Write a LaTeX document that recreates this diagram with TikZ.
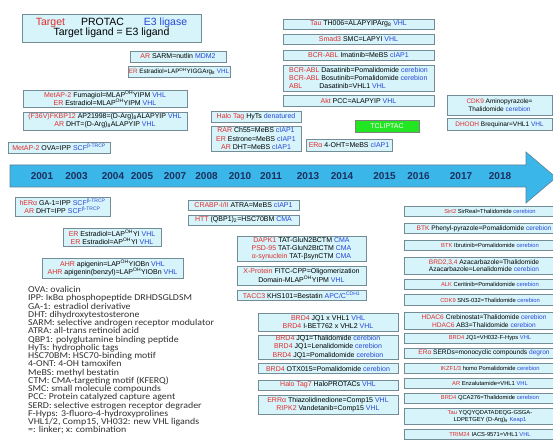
\documentclass[tikz,border=0pt]{standalone}
\usepackage{fontspec}
\setmainfont{Liberation Sans}
\newfontfamily\glossfont[FakeStretch=1.1]{Carlito}
\usetikzlibrary{backgrounds}
\definecolor{tred}{RGB}{225,45,45}
\definecolor{eblue}{RGB}{40,70,215}
\definecolor{boxfill}{RGB}{214,244,250}
\definecolor{boxline}{RGB}{115,140,150}
\definecolor{bandfill}{RGB}{58,182,232}
\definecolor{bandline}{RGB}{95,130,150}
\definecolor{yearcol}{RGB}{28,48,95}
\definecolor{vlinecol}{RGB}{165,165,165}
\definecolor{tgreen}{RGB}{35,230,35}
\definecolor{glosscol}{RGB}{50,50,50}
\newcommand{\tgt}[1]{\textcolor{tred}{#1}}
\newcommand{\ubq}[1]{\textcolor{eblue}{#1}}
\newcommand{\ohs}{\textsuperscript{OH}}
\lineskiplimit=-5pt
\tikzset{
 bx/.style={draw=boxline, fill=boxfill, line width=0.8pt, inner sep=0pt, align=center,
   font=\fontsize{7}{8.2}\selectfont},
 rbx/.style={bx, minimum width=172pt, minimum height=10pt, font=\fontsize{5.8}{6.6}\selectfont},
 big/.style={minimum width=160pt, xshift=-6pt, font=\fontsize{6.6}{7.6}\selectfont},
 yr/.style={font=\fontsize{10}{10}\selectfont\bfseries, text=yearcol, inner sep=0pt},
 vl/.style={draw=vlinecol, line width=0.9pt},
 gl/.style={font=\glossfont\fontsize{9}{9}\selectfont, text=glosscol, inner sep=0pt, anchor=base west},
}
\begin{document}
\begin{tikzpicture}[x=1pt,y=-1pt]
\useasboundingbox[fill=white] (0,0) rectangle (553,446);

% timeline arrow
\path[fill=bandfill, draw=bandline, line width=0.6pt] (10,165) -- (526,165) -- (526,152) -- (556,177.5) -- (526,203) -- (526,187) -- (10,187) -- cycle;
\coordinate (bandT) at (0,165);
\coordinate (bandB) at (0,187);

% years
\node[yr] (y2001) at (42,176.5) {2001};
\node[yr] (y2003) at (76.5,176.5) {2003};
\node[yr] (y2004) at (113,176.5) {2004};
\node[yr] (y2005) at (142,176.5) {2005};
\node[yr] (y2007) at (175,176.5) {2007};
\node[yr] (y2008) at (206.5,176.5) {2008};
\node[yr] (y2010) at (240,176.5) {2010};
\node[yr] (y2011) at (271,176.5) {2011};
\node[yr] (y2013) at (308,176.5) {2013};
\node[yr] (y2014) at (342,176.5) {2014};
\node[yr] (y2015) at (384.5,176.5) {2015};
\node[yr] (y2016) at (418.5,176.5) {2016};
\node[yr] (y2017) at (461,176.5) {2017};
\node[yr] (y2018) at (500,176.5) {2018};

% legend
\node[bx, minimum width=179pt, minimum height=28pt, font=\fontsize{10.5}{10}\selectfont] (leg) at (111.5,28)
 {\tgt{Target}\hspace{16pt}PROTAC\hspace{20pt}\ubq{E3 ligase}\\Target ligand = E3 ligand};

% above timeline
\node[bx, minimum width=102pt, minimum height=11pt] (A2) at (59,147.5) {\tgt{MetAP-2} OVA=IPP \ubq{SCF\textsuperscript{β-TRCP}}};
\node[bx, minimum width=164pt, minimum height=17pt] (A3) at (105,98.5) {\tgt{MetAP-2} Fumagiol=MLAP\ohs YIPM \ubq{VHL}\\\tgt{ER} Estradiol=MLAP\ohs YIPM \ubq{VHL}};
\node[bx, minimum width=164pt, minimum height=18pt] (A4) at (105,121) {\tgt{(F36V)FKBP12} AP21998=(D-Arg)\textsubscript{8}ALAPYIP \ubq{VHL}\\\tgt{AR} DHT=(D-Arg)\textsubscript{8}ALAPYIP \ubq{VHL}};
\node[bx, minimum width=96pt, minimum height=11pt] (A5) at (178,56.5) {\tgt{AR} SARM=nutlin \ubq{MDM2}};
\node[bx, minimum width=102pt, minimum height=11pt, font=\fontsize{6.3}{7}\selectfont] (A6) at (179,71.5) {\tgt{ER} Estradiol=LAP\ohs YIGGArg\textsubscript{8} \ubq{VHL}};
\node[bx, minimum width=90pt, minimum height=11pt] (A7) at (256,116.5) {\tgt{Halo Tag} HyTs \ubq{denatured}};
\node[bx, minimum width=90pt, minimum height=25pt] (A8) at (256,138.5) {\tgt{RAR} Ch55=MeBS \ubq{cIAP1}\\\tgt{ER} Estrone=MeBS \ubq{cIAP1}\\\tgt{AR} DHT=MeBS \ubq{cIAP1}};
\node[bx, minimum width=86pt, minimum height=12pt] (A9) at (349,145) {\tgt{ERα} 4-OHT=MeBS \ubq{cIAP1}};
\node[bx, minimum width=151pt, minimum height=10pt] (A10) at (358.5,24) {\tgt{Tau} TH006=ALAPYIPArg\textsubscript{8} \ubq{VHL}};
\node[bx, minimum width=151pt, minimum height=10pt] (A11) at (358.5,39) {\tgt{Smad3} SMC=LAPYI \ubq{VHL}};
\node[bx, minimum width=151pt, minimum height=10pt] (A12) at (358.5,55) {\tgt{BCR-ABL} Imatinib=MeBS \ubq{cIAP1}};
\node[bx, minimum width=151pt, minimum height=26pt, align=left] (A13) at (358.5,78) {\tgt{BCR-ABL} Dasatinib=Pomalidomide \ubq{cerebion}\\\tgt{BCR-ABL} Bosutinib=Pomalidomide \ubq{cerebion}\\\tgt{ABL}\hspace{17pt}Dasatinib=VHL1 \ubq{VHL}};
\node[bx, minimum width=151pt, minimum height=11pt] (A14) at (358.5,101) {\tgt{Akt} PCC=ALAPYIP \ubq{VHL}};
\node[bx, fill=tgreen, draw=gray, minimum width=64pt, minimum height=12pt, text=white] (A15) at (387,126) {TCLIPTAC};
\node[bx, minimum width=105pt, minimum height=20pt, font=\fontsize{6.5}{7.6}\selectfont] (A16) at (499.5,105) {\tgt{CDK9} Aminopyrazole=\\Thalidomide \ubq{cerebion}};
\node[bx, minimum width=105pt, minimum height=12pt, font=\fontsize{6.5}{7.6}\selectfont] (A17) at (499.5,124.5) {\tgt{DHODH} Brequinar=VHL1 \ubq{VHL}};

% below timeline
\node[bx, minimum width=95pt, minimum height=19pt] (B1) at (62.5,206.5) {\tgt{hERα} GA-1=IPP \ubq{SCF\textsuperscript{β-TRCP}}\\\tgt{AR} DHT=IPP \ubq{SCF\textsuperscript{β-TRCP}}};
\node[bx, minimum width=98pt, minimum height=18pt] (B2) at (112,237) {\tgt{ER} Estradiol=LAP\ohs YI \ubq{VHL}\\\tgt{ER} Estradiol=AP\ohs YI \ubq{VHL}};
\node[bx, minimum width=141pt, minimum height=20pt] (B3) at (112.5,268) {\tgt{AHR} apigenin=LAP\ohs YIOBn \ubq{VHL}\\\tgt{AHR} apigenin(benzyl)=LAP\ohs YIOBn \ubq{VHL}};
\node[bx, minimum width=111pt, minimum height=10pt] (B4) at (243.5,205) {\tgt{CRABP-I/II} ATRA=MeBS \ubq{cIAP1}};
\node[bx, minimum width=111pt, minimum height=10pt] (B5) at (243.5,220) {\tgt{HTT} (QBP1)\textsubscript{2}=HSC70BM \ubq{CMA}};
\node[bx, minimum width=129pt, minimum height=25pt] (B6) at (301.5,248.5) {\tgt{DAPK1} TAT-GluN2BCTM \ubq{CMA}\\\tgt{PSD-95} TAT-GluN2BtCTM \ubq{CMA}\\\tgt{α-synuclein} TAT-βsynCTM \ubq{CMA}};
\node[bx, minimum width=129pt, minimum height=19pt] (B7) at (301.5,275.5) {\tgt{X-Protein} FITC-CPP=Oligomerization\\Domain-MLAP\ohs YIPM \ubq{VHL}};
\node[bx, minimum width=129pt, minimum height=10pt] (B8) at (301.5,295) {\tgt{TACC3} KHS101=Bestatin \ubq{APC/C\textsuperscript{CDH1}}};
\node[bx, minimum width=140pt, minimum height=18pt] (B9) at (328,322) {\tgt{BRD4} JQ1 x VHL1 \ubq{VHL}\\\tgt{BRD4} I-BET762 x VHL2 \ubq{VHL}};
\node[bx, minimum width=140pt, minimum height=24pt] (B10) at (328,347) {\tgt{BRD4} JQ1=Thalidomide \ubq{cerebion}\\\tgt{BRD4} JQ1=Lenalidomide \ubq{cerebion}\\\tgt{BRD4} JQ1=Pomalidomide \ubq{cerebion}};
\node[bx, minimum width=140pt, minimum height=10pt] (B11) at (328,368.5) {\tgt{BRD4} OTX015=Pomalidomide \ubq{cerebion}};
\node[bx, minimum width=140pt, minimum height=10pt] (B12) at (328,385) {\tgt{Halo Tag7} HaloPROTACs \ubq{VHL}};
\node[bx, minimum width=140pt, minimum height=19pt] (B13) at (328,404.5) {\tgt{ERRα} Thiazolidinedione=Comp15 \ubq{VHL}\\\tgt{RIPK2} Vandetanib=Comp15 \ubq{VHL}};

% right column
\node[rbx] (C1) at (490,211.5) {\tgt{Sirt2} SirReal=Thalidomide \ubq{cerebion}};
\node[rbx, big] (C2) at (490,228.5) {\tgt{BTK} Phenyl-pyrazole=Pomalidomide \ubq{cerebion}};
\node[rbx] (C3) at (490,245.5) {\tgt{BTK} Ibrutinib=Pomalidomide \ubq{cerebion}};
\node[rbx, big, minimum height=17pt] (C4) at (490,265.5) {\tgt{BRD2,3,4} Azacarbazole=Thalidomide\\Azacarbazole=Lenalidomide \ubq{cerebion}};
\node[rbx] (C5) at (490,284.5) {\tgt{ALK} Ceritinib=Pomalidomide \ubq{cerebion}};
\node[rbx, minimum height=11pt] (C6) at (490,300) {\tgt{CDK9} SNS-032=Thalidomide \ubq{cerebion}};
\node[rbx, big, minimum height=17pt] (C7) at (490,321) {\tgt{HDAC6} Crebinostat=Thalidomide \ubq{cerebion}\\\tgt{HDAC6} AB3=Thalidomide \ubq{cerebion}};
\node[rbx] (C8) at (490,338) {\tgt{BRD4} JQ1=VH032-F-Hyps \ubq{VHL}};
\node[rbx, big] (C9) at (490,353) {\tgt{ERα} SERDs=monocyclic compounds \ubq{degron}};
\node[rbx] (C10) at (490,368) {\tgt{IKZF1/3} homo Pomalidomide \ubq{cerebion}};
\node[rbx] (C11) at (490,383) {\tgt{AR} Enzalutamide=VHL1 \ubq{VHL}};
\node[rbx] (C12) at (490,398) {\tgt{BRD4} QCA276=Thalidomide \ubq{cerebion}};
\node[rbx, minimum height=16pt] (C13) at (490,416.5) {\tgt{Tau} YQQYQDATADEQG-GSGA-\\LDPETGEY (D-Arg)\textsubscript{9} \ubq{Keap1}};
\node[rbx] (C14) at (490,434.5) {\tgt{TRIM24} IACS-9571=VHL1 \ubq{VHL}};

% glossary
\foreach \txt [count=\i from 0] in {OVA: ovalicin, IPP: IκBα phosphopeptide DRHDSGLDSM, GA-1: estradiol derivative, DHT: dihydroxytestosterone, SARM: selective androgen receptor modulator, ATRA: all-trans retinoid acid, QBP1: polyglutamine binding peptide, HyTs: hydropholic tags, HSC70BM: HSC70-binding motif, 4-ONT: 4-OH tamoxifen, MeBS: methyl bestatin, CTM: CMA-targeting motif (KFERQ), SMC: small molecule compounds, PCC: Protein catalyzed capture agent, SERD: selective estrogen receptor degrader, F-Hyps: 3-fluoro-4-hydroxyprolines, {VHL1/2, Comp15, VH032: new VHL ligands}, =: linker; x: combination}
  \node[gl] (gl\i) at (28,292.5+8.25*\i) {\txt};

% connectors
\begin{scope}[on background layer]
\draw[vl] (y2001 |- A2.south) -- (y2001 |- bandT);
\draw[vl] (y2003 |- bandB) -- (y2003 |- B1.north);
\draw[vl] (y2004 |- A3.south) -- (y2004 |- bandT);
\draw[vl] (y2005 |- bandB) -- (y2005 |- B2.north);
\draw[vl] (y2007 |- bandB) -- (y2007 |- B3.north);
\draw[vl] (y2008 |- A5.south) -- (y2008 |- bandT);
\draw[vl] (y2010 |- bandB) -- (y2010 |- B5.north);
\draw[vl] (y2011 |- A7.south) -- (y2011 |- bandT);
\draw[vl] (y2013 |- A9.south) -- (y2013 |- bandT);
\draw[vl] (y2014 |- bandB) -- (y2014 |- B8.north);
\draw[vl] (y2015 |- bandB) -- (y2015 |- B13.north);
\draw[vl] (y2016 |- A10.south) -- (y2016 |- bandT);
\draw[vl] (y2017 |- A16.south) -- (y2017 |- bandT);
\draw[vl] (y2018 |- bandB) -- (y2018 |- C14.north);
\end{scope}
\end{tikzpicture}
\end{document}
